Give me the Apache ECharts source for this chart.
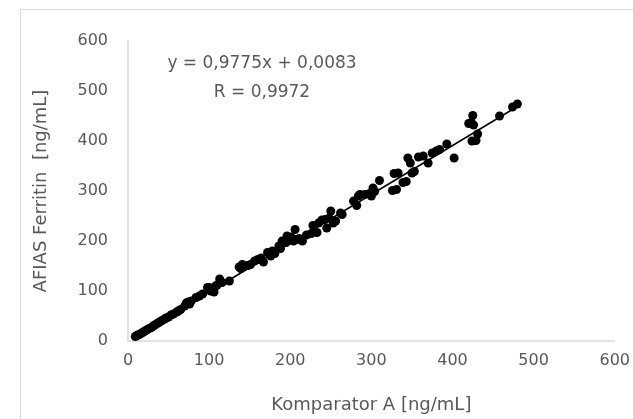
<!DOCTYPE html>
<html>
<head>
<meta charset="utf-8">
<script src="https://cdn.jsdelivr.net/npm/echarts@6/dist/echarts.min.js"></script>
<style>
  html, body { margin: 0; padding: 0; background: #fff; }
  #chart { width: 633px; height: 419px; }
</style>
</head>
<body>
<div id="chart"></div>
<script>
// Komparator A vs AFIAS Ferritin
const komparatorA = [
  9, 11, 12, 14, 16, 18, 20, 22, 24, 26, 29, 31, 33, 36, 38, 40, 42, 45, 47, 50,
  53, 56, 60, 62, 65, 70, 72, 74, 76, 78, 84, 88, 92, 98, 100, 102, 106, 108, 110, 113,
  116, 125, 137, 139, 141, 148, 151, 156, 160, 164, 167, 172, 176, 178, 181, 186, 188, 190, 195, 196,
  198, 201, 204, 206, 208, 211, 215, 220, 226, 228, 233, 235, 239, 243, 245, 248, 250, 253, 256, 262,
  264, 278, 282, 284, 286, 292, 298, 300, 302, 304, 310, 326, 328, 331, 333, 339, 343, 345, 348, 350,
  353, 358, 364, 370, 375, 380, 384, 393, 402, 420, 423, 425, 426, 424, 429, 431, 458, 474, 480
];
const afiasFerritin = [
  9, 11, 12, 13, 15, 17, 19, 21, 23, 25, 27, 30, 32, 35, 37, 39, 41, 44, 46, 48,
  52, 54, 58, 60, 63, 70, 76, 78, 74, 80, 87, 90, 94, 107, 107, 100, 98, 110, 112, 124,
  117, 120, 148, 145, 153, 151, 153, 160, 163, 166, 158, 177, 170, 180, 175, 190, 185, 200, 197, 210,
  205, 208, 200, 223, 203, 205, 200, 212, 215, 231, 217, 236, 242, 243, 226, 246, 260, 236, 240, 256,
  253, 280, 271, 290, 293, 293, 295, 290, 306, 299, 321, 301, 335, 303, 336, 317, 319, 366, 356, 336,
  339, 368, 370, 356, 376, 380, 383, 394, 366, 435, 437, 451, 432, 400, 401, 414, 450, 468, 474
];
// trend line end points
const trendX = [10, 480];
const trendY = [10, 469];
const xTicks = { min: 0, max: 600, step: 100 };
const yTicks = { min: 0, max: 600, step: 100 };
const equationText = 'y = 0,9775x + 0,0083';
const rText = 'R = 0,9972';
const xTitle = 'Komparator A [ng/mL]';
const yTitle = 'AFIAS Ferritin  [ng/mL]';

const points = komparatorA.map((x, i) => [x, afiasFerritin[i]]);
const trend = trendX.map((x, i) => [x, trendY[i]]);

const font = 'DejaVu Sans';
const grey = '#595959';

const chart = echarts.init(document.getElementById('chart'));
chart.setOption({
  backgroundColor: '#fff',
  animation: false,
  grid: { left: 128, right: 15, top: 41, bottom: 77 },
  graphic: [
    {
      type: 'rect',
      shape: { x: 20.5, y: 9.5, width: 700, height: 500 },
      style: { fill: 'none', stroke: '#d9d9d9', lineWidth: 1 },
      silent: true,
      z: -1
    },
    {
      type: 'text', x: 262, y: 64,
      style: { text: equationText, fill: grey, font: '17px "' + font + '"', align: 'center', verticalAlign: 'middle' }
    },
    {
      type: 'text', x: 262, y: 93,
      style: { text: rText, fill: grey, font: '17px "' + font + '"', align: 'center', verticalAlign: 'middle' }
    }
  ],
  xAxis: {
    type: 'value',
    min: xTicks.min, max: xTicks.max, interval: xTicks.step,
    name: xTitle,
    nameLocation: 'middle',
    nameGap: 55,
    nameTextStyle: { color: grey, fontFamily: font, fontSize: 18 },
    axisLine: { show: true, lineStyle: { color: '#d9d9d9', width: 1.5 } },
    axisTick: { show: false },
    splitLine: { show: false },
    axisLabel: { color: grey, fontFamily: font, fontSize: 16, margin: 12 }
  },
  yAxis: {
    type: 'value',
    min: yTicks.min, max: yTicks.max, interval: yTicks.step,
    name: yTitle,
    nameLocation: 'middle',
    nameGap: 78,
    nameTextStyle: { color: grey, fontFamily: font, fontSize: 18 },
    axisLine: { show: true, lineStyle: { color: '#d9d9d9', width: 1.5 } },
    axisTick: { show: false },
    splitLine: { show: false },
    axisLabel: { color: grey, fontFamily: font, fontSize: 16, margin: 20 }
  },
  series: [
    {
      type: 'scatter',
      data: points,
      symbol: 'circle',
      symbolSize: 9,
      itemStyle: { color: '#000', opacity: 1 },
      z: 3
    },
    {
      type: 'line',
      data: trend,
      showSymbol: false,
      symbol: 'none',
      lineStyle: { color: '#000', width: 1.5 },
      z: 2
    }
  ]
});
</script>
</body>
</html>
